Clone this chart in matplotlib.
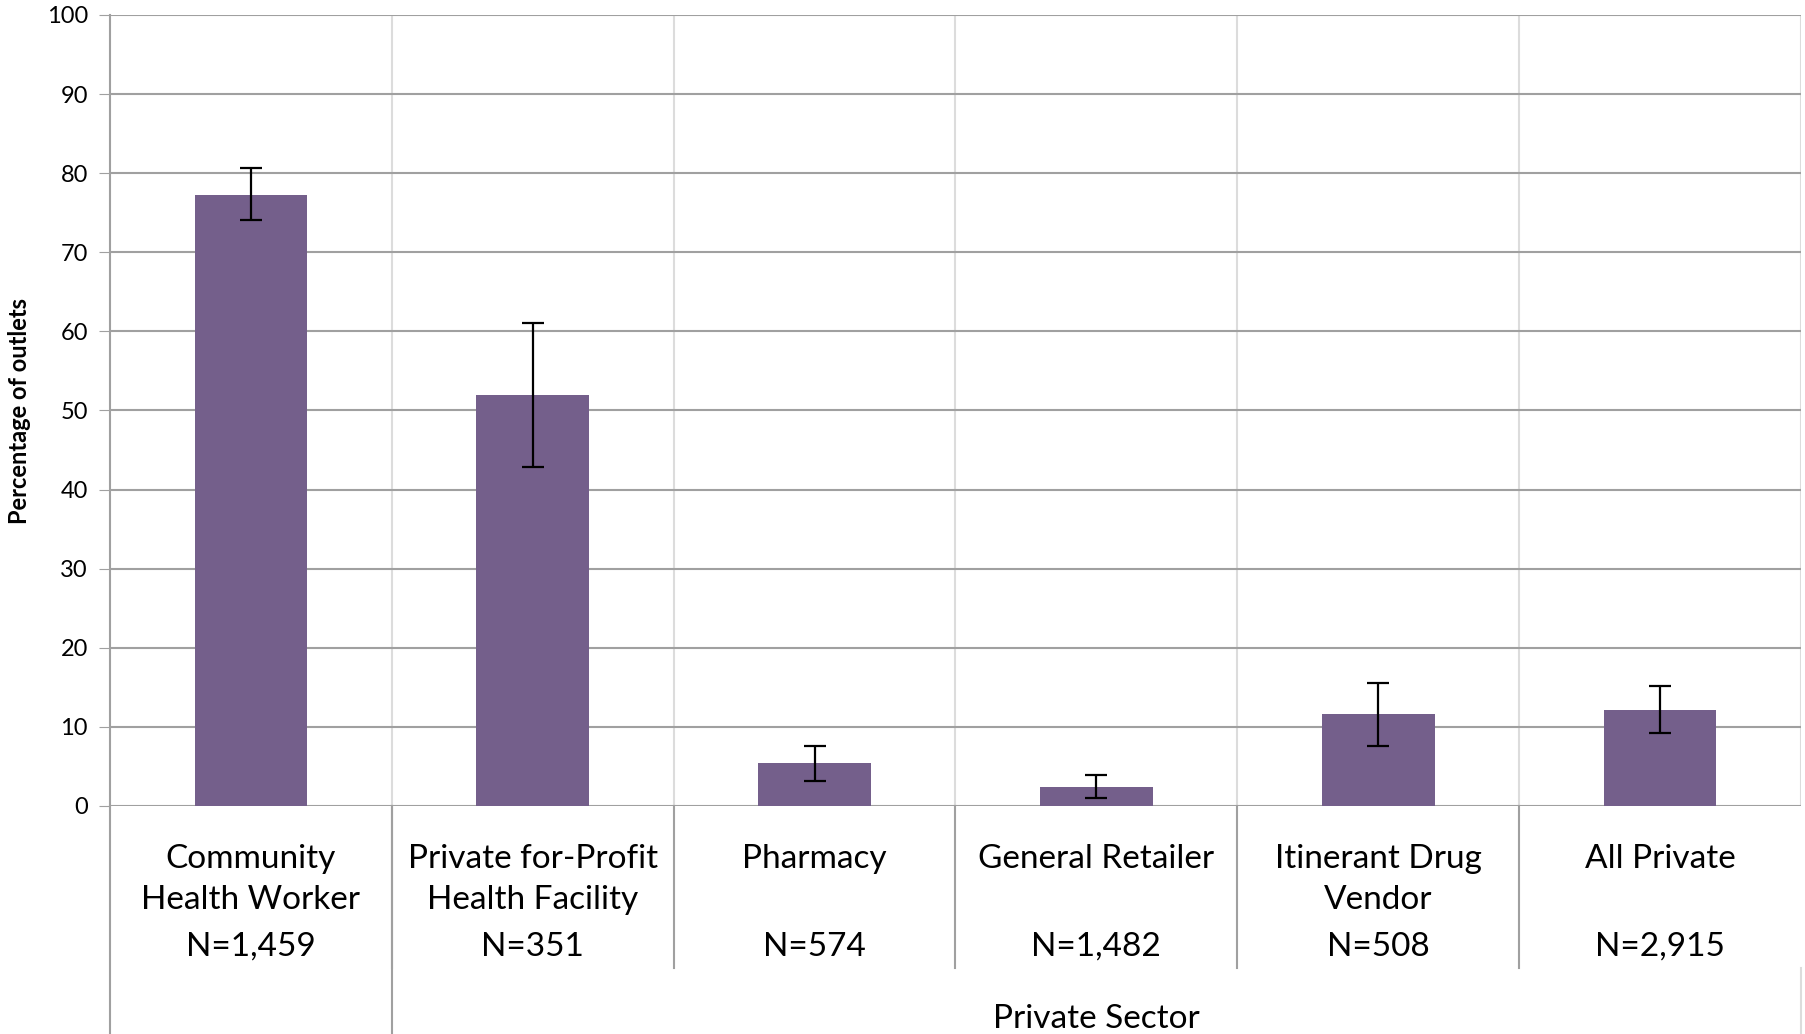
import matplotlib.pyplot as plt
from matplotlib.transforms import blended_transform_factory

# outlet types and survey results
categories = ['Community\nHealth Worker', 'Private for-Profit\nHealth Facility', 'Pharmacy',
              'General Retailer', 'Itinerant Drug\nVendor', 'All Private']
sample_sizes = ['N=1,459', 'N=351', 'N=574', 'N=1,482', 'N=508', 'N=2,915']
percent = [77.3, 52.0, 5.4, 2.4, 11.6, 12.1]
ci_low = [74.1, 42.9, 3.2, 1.05, 7.6, 9.2]
ci_high = [80.6, 61.0, 7.6, 3.9, 15.5, 15.2]
group_label = 'Private Sector'

plt.rcParams['font.family'] = ['Lato', 'DejaVu Sans']

bar_color = '#745f8b'
grid_dark = '#a0a0a0'
grid_light = '#dcdcdc'

fig = plt.figure(figsize=(18.06, 10.34), dpi=100)
ax = fig.add_axes([110 / 1806, (1034 - 806) / 1034, 1691 / 1806, 791 / 1034])

x = list(range(len(categories)))
err_lo = [p - lo for p, lo in zip(percent, ci_low)]
err_hi = [hi - p for p, hi in zip(percent, ci_high)]

ax.bar(x, percent, width=0.4, color=bar_color, zorder=3)
ax.errorbar(x, percent, yerr=[err_lo, err_hi], fmt='none', ecolor='black',
            elinewidth=1.6, capsize=8, capthick=1.6, zorder=4)

ax.set_xlim(-0.5, len(categories) - 0.5)
ax.set_ylim(0, 100)
ax.set_yticks(range(0, 101, 10))
ax.set_xticks([])
ax.tick_params(axis='y', labelsize=17, length=8, color=grid_dark, pad=8)

# horizontal gridlines dark, vertical separators light
ax.yaxis.grid(True, color=grid_dark, linewidth=1.5, zorder=0)
for b in [i + 0.5 for i in x]:
    ax.axvline(b, color=grid_light, linewidth=1.5, zorder=0)
for side in ['top', 'right', 'bottom']:
    ax.spines[side].set_visible(False)
ax.spines['left'].set_color(grid_dark)
ax.spines['left'].set_linewidth(1.5)

ax.set_ylabel('Percentage of outlets', fontsize=17, fontweight='bold')
ax.yaxis.set_label_coords(-0.0467, 0.5)

# category labels, one line at a time, and separators under the axis
trans = blended_transform_factory(ax.transData, ax.transAxes)
line_y = [-0.0630, -0.1148]
for xi, name, n in zip(x, categories, sample_sizes):
    for ly, part in zip(line_y, name.split('\n')):
        ax.text(xi, ly, part, transform=trans, ha='center',
                va='center_baseline', fontsize=24)
    ax.text(xi, -0.1742, n, transform=trans, ha='center',
            va='center_baseline', fontsize=24)

inner = [i + 0.5 for i in x[:-1]]
for b in inner:
    ax.plot([b, b], [0, -0.205], transform=trans, color=grid_dark,
            linewidth=1.5, clip_on=False)
for b in [-0.5, 0.5]:
    ax.plot([b, b], [0, -0.30], transform=trans, color=grid_dark,
            linewidth=1.5, clip_on=False)
ax.plot([x[-1] + 0.5, x[-1] + 0.5], [-0.205, -0.30], transform=trans,
        color=grid_light, linewidth=1.5, clip_on=False)

ax.text((x[1] + x[-1]) / 2, -0.2650, group_label, transform=trans, ha='center',
        va='center_baseline', fontsize=24)

fig.savefig('out.png', dpi=100)
